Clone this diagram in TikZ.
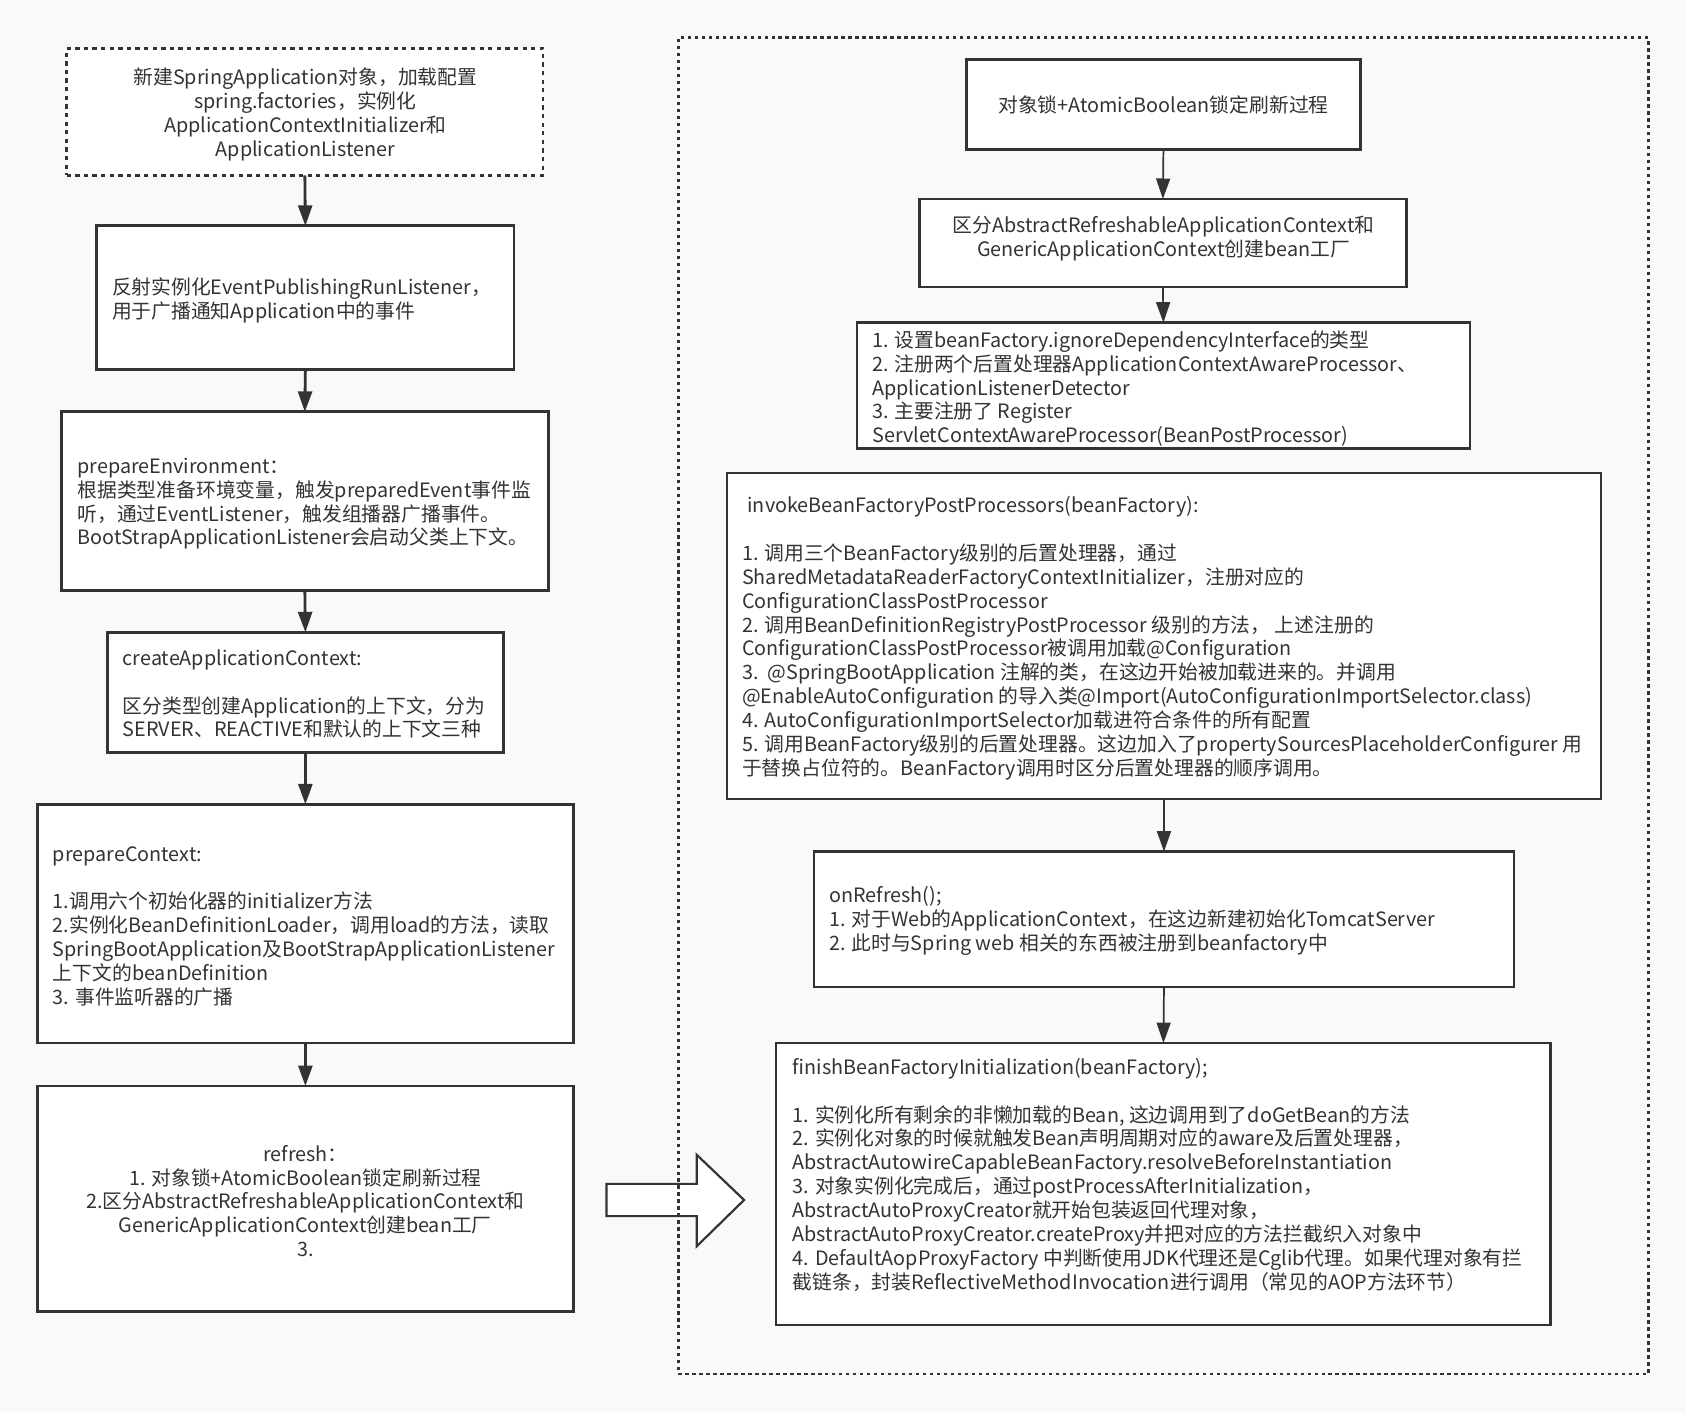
\documentclass[tikz,border=0pt]{standalone}
\usepackage{fontspec}
\setmainfont{Noto Sans CJK SC}
\usetikzlibrary{arrows.meta,fit}
\definecolor{stroke}{HTML}{333333}
\definecolor{bgc}{HTML}{F9F9F9}
\definecolor{txtc}{HTML}{333333}
\begin{document}
\begin{tikzpicture}[x=1pt,y=-1pt,
  box/.style={draw=stroke, fill=white, line width=2.6pt, inner sep=0pt, outer sep=0pt},
  rbox/.style={box, line width=2.1pt},
  dbox/.style={box, dash pattern=on 4pt off 4pt},
  cont/.style={draw=stroke, line width=2.2pt, dash pattern=on 3pt off 3.5pt, inner sep=0pt, outer sep=0pt},
  txt/.style={inner sep=0pt, text=txtc, font=\fontsize{18.4}{22.2}\selectfont, align=left, anchor=west},
  ctxt/.style={inner sep=0pt, text=txtc, font=\fontsize{18.4}{22.2}\selectfont, align=center},
  flow/.style={draw=stroke, line width=2.6pt, -{Triangle[length=19pt,width=13pt]}},
  rflow/.style={draw=stroke, line width=1.6pt, -{Triangle[length=19pt,width=13pt]}},
  bigarrow/.style={draw=stroke, fill=white, line width=2pt, line join=miter},
]
\fill[bgc] (0,0) rectangle (1568,1314);
\useasboundingbox (0,0) rectangle (1568,1314);

% ---------- left column ----------
\node[dbox, fit={(62,45) (505,163)}] (L1) {};
\node[box, fit={(90,210) (478,344)}] (L2) {};
\node[box, fit={(57,383) (510,549)}] (L3) {};
\node[box, fit={(100,588) (468,700)}] (L4) {};
\node[box, fit={(35,748) (533,970)}] (L5) {};
\node[box, fit={(35,1010) (533,1220)}] (L6) {};

\node[ctxt] (L1t) at (284,106.5) {新建SpringApplication对象，加载配置\\spring.factories，实例化\\ApplicationContextInitializer和\\ApplicationListener};
\node[txt] (L2t) at (104,279.5) {反射实例化EventPublishingRunListener，\\用于广播通知Application中的事件};
\node[txt] (L3t) at (72,468.5) {prepareEnvironment：\\根据类型准备环境变量，触发preparedEvent事件监\\听，通过EventListener，触发组播器广播事件。\\BootStrapApplicationListener会启动父类上下文。};
\node[txt] (L4t) at (114,645.5) {createApplicationContext:\\[22.2pt]区分类型创建Application的上下文，分为\\SERVER、REACTIVE和默认的上下文三种};
\node[txt] (L5t) at (49,861.5) {prepareContext:\\[22.2pt]1.调用六个初始化器的initializer方法\\2.实例化BeanDefinitionLoader，调用load的方法，读取\\SpringBootApplication及BootStrapApplicationListener\\上下文的beanDefinition\\3. 事件监听器的广播};
\node[ctxt] (L6t) at (284,1117) {refresh：\\1. 对象锁+AtomicBoolean锁定刷新过程\\2.区分AbstractRefreshableApplicationContext和\\GenericApplicationContext创建bean工厂\\3.};

\draw[flow] (L1.south) -- (L2.north);
\draw[flow] (L2.south) -- (L3.north);
\draw[flow] (L3.south) -- (L4.north);
\draw[flow] (L4.south) -- (L5.north);
\draw[flow] (L5.south) -- (L6.north);

% ---------- big hollow arrow ----------
\draw[bigarrow] (564,1101) -- (648,1101) -- (648,1074) -- (692,1116) -- (648,1159) -- (648,1131) -- (564,1131) -- cycle;

% ---------- right container ----------
\node[cont, fit={(631,35) (1533,1278)}] (R0) {};

\node[box, fit={(899,55) (1265,139)}] (R1) {};
\node[box, fit={(855,185) (1308,267)}] (R2) {};
\node[rbox, fit={(797,300) (1367,417)}] (R3) {};
\node[rbox, fit={(676,440) (1489,743)}] (R4) {};
\node[rbox, fit={(757,792) (1408,918)}] (R5) {};
\node[rbox, fit={(722,970) (1442,1232)}] (R6) {};

\node[ctxt] (R1t) at (1082,98) {对象锁+AtomicBoolean锁定刷新过程};
\node[ctxt] (R2t) at (1082,222) {区分AbstractRefreshableApplicationContext和\\GenericApplicationContext创建bean工厂};
\node[txt] (R3t) at (811,361.5) {1. 设置beanFactory.ignoreDependencyInterface的类型\\2. 注册两个后置处理器ApplicationContextAwareProcessor、\\ApplicationListenerDetector\\3. 主要注册了 Register\\ServletContextAwareProcessor(BeanPostProcessor)};
\node[txt] (R4t) at (690,593.5) {\hspace*{5pt}invokeBeanFactoryPostProcessors(beanFactory):\\[22.2pt]1. 调用三个BeanFactory级别的后置处理器，通过\\SharedMetadataReaderFactoryContextInitializer，注册对应的\\ConfigurationClassPostProcessor\\2. 调用BeanDefinitionRegistryPostProcessor 级别的方法， 上述注册的\\ConfigurationClassPostProcessor被调用加载@Configuration\\3.\ \ @SpringBootApplication 注解的类，在这边开始被加载进来的。并调用\\@EnableAutoConfiguration 的导入类@Import(AutoConfigurationImportSelector.class)\\4. AutoConfigurationImportSelector加载进符合条件的所有配置\\5. 调用BeanFactory级别的后置处理器。这边加入了propertySourcesPlaceholderConfigurer 用\\于替换占位符的。BeanFactory调用时区分后置处理器的顺序调用。};
\node[txt] (R5t) at (771,856.5) {onRefresh();\\1. 对于Web的ApplicationContext，在这边新建初始化TomcatServer\\2. 此时与Spring web 相关的东西被注册到beanfactory中};
\node[txt] (R6t) at (737,1092.5) {finishBeanFactoryInitialization(beanFactory);\\[22.2pt]1. 实例化所有剩余的非懒加载的Bean, 这边调用到了doGetBean的方法\\2. 实例化对象的时候就触发Bean声明周期对应的aware及后置处理器，\\AbstractAutowireCapableBeanFactory.resolveBeforeInstantiation\\3. 对象实例化完成后，通过postProcessAfterInitialization，\\AbstractAutoProxyCreator就开始包装返回代理对象，\\AbstractAutoProxyCreator.createProxy并把对应的方法拦截织入对象中\\4. DefaultAopProxyFactory 中判断使用JDK代理还是Cglib代理。如果代理对象有拦\\截链条，封装ReflectiveMethodInvocation进行调用（常见的AOP方法环节）};

\draw[rflow] (R1.south) -- (R2.north);
\draw[rflow] (R2.south) -- (R3.north);
\draw[rflow] (R4.south) -- (R5.north);
\draw[rflow] (R5.south) -- (R6.north);
\end{tikzpicture}
\end{document}
